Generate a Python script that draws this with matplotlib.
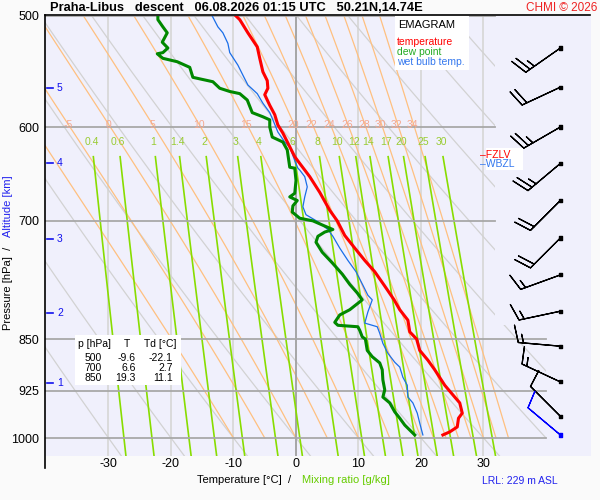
import numpy as np
import matplotlib
matplotlib.use("Agg")
import matplotlib.pyplot as plt
from matplotlib.patches import Polygon, Rectangle
from matplotlib.lines import Line2D
from matplotlib.ticker import NullLocator
import matplotlib.transforms as mtransforms

plt.rcParams['font.family'] = ['Liberation Sans', 'DejaVu Sans']

# sounding: temperature
t_p = [500, 503, 514, 526, 536, 548, 556, 563, 569, 579, 588, 598, 606, 616, 630, 637, 651, 668, 688, 700,
       717, 732, 747, 761, 778, 797, 810, 824, 840, 850, 866, 880, 894, 917, 935, 944, 960, 968, 982, 990, 995]
t_T = [-9.6, -9.0, -7.7, -6.2, -5.8, -5.3, -4.6, -4.5, -5.0, -4.2, -3.4, -2.9, -2.1, -1.3, -0.2, 0.6, 2.2, 3.8, 5.4, 6.6,
       7.8, 9.4, 11.0, 12.6, 14.1, 15.7, 16.6, 17.9, 18.2, 19.3, 19.8, 21.1, 22.2, 23.8, 25.4, 26.2, 26.6, 26.0, 25.8, 24.6, 23.5]

# dew point
d_p = [500, 503, 509, 514, 522, 527, 531, 532, 536, 539, 544, 553, 555, 557, 563, 566, 568, 574, 586, 590,
       593, 600, 610, 615, 623, 641, 642, 655, 669, 673, 677, 683, 690, 697, 700, 706, 710, 713, 718, 725,
       737, 750, 764, 777, 788, 797, 810, 817, 827, 831, 833, 838, 847, 850, 866, 875, 884, 894, 909, 924,
       935, 944, 958, 968, 979, 987, 995]
d_T = [-22.1, -22.1, -21.3, -20.6, -21.4, -20.5, -21.3, -22.2, -21.3, -19.0, -17.0, -16.5, -14.9, -13.3, -12.2, -10.6, -9.0, -7.8, -7.0, -5.3,
       -4.2, -4.2, -3.8, -2.1, -1.4, -1.0, -0.2, 0.0, -0.2, -1.0, 0.2, -0.5, -0.6, 0.6, 2.7, 4.6, 5.9, 4.6, 3.5, 3.2,
       4.2, 5.8, 7.4, 8.6, 9.8, 10.6, 8.6, 7.0, 6.2, 6.7, 9.9, 10.2, 10.6, 11.1, 11.4, 12.2, 13.4, 13.8, 13.9, 14.2,
       13.9, 15.0, 15.8, 16.6, 17.4, 18.2, 19.0]

# wet bulb
w_p = [500, 509, 514, 523, 531, 542, 551, 560, 568, 577, 586, 593, 605, 615, 620, 634, 642, 644, 651, 662,
       673, 684, 693, 701, 710, 718, 732, 747, 761, 778, 791, 797, 813, 828, 833, 842, 856, 870, 883, 890,
       905, 917, 935, 944, 960, 976, 995]
w_T = [-13.4, -12.5, -11.7, -10.9, -10.6, -9.3, -8.5, -7.7, -6.2, -5.3, -4.2, -3.7, -2.9, -1.8, -1.0, -0.2, 0.3, 0.6, 1.4, 1.8,
       1.4, 1.1, 1.6, 3.5, 5.1, 5.9, 7.0, 8.3, 9.6, 10.7, 11.5, 12.2, 11.5, 11.0, 13.0, 13.4, 13.9, 14.7, 15.8, 16.6,
       17.1, 17.8, 17.9, 18.7, 19.4, 19.8, 20.3]

# wind
wind_p = [527, 562, 600, 637, 677, 720, 765, 812, 860, 912, 965, 995]
wind_dir = [235, 245, 240, 230, 225, 225, 250, 258, 275, 295, 315, 310]
wind_kt = [25, 20, 25, 25, 20, 20, 15, 15, 15, 15, 10, 10]

# altitude marks
alt_km = [1, 2, 3, 4, 5]
alt_p = [914, 814, 721, 637, 563]

table_p = ['500', '700', '850']
table_T = ['-9.6', '6.6', '19.3']
table_Td = ['-22.1', '2.7', '11.1']

p_levels = [500, 600, 700, 850, 925, 1000]
isotherms = [-30, -20, -10, 10, 20, 30]
dry_theta = list(range(-30, 110, 10))
moist_tw = [-10, -5, 0, 5, 10, 15, 20, 22, 24, 26, 28, 30, 32, 34]
moist_lab = [-5, 0, 5, 10, 15, 20, 22, 24, 26, 28, 30, 32, 34]
mix_r = [0.4, 0.6, 1, 1.4, 2, 3, 4, 6, 8, 10, 12, 14, 17, 20, 25, 30]
mix_lab = ['0.4', '0.6', '1', '1.4', '2', '3', '4', '6', '8', '10', '12', '14', '17', '20', '25', '30']


def fx(px):
    return px / 600.0


def fy(py):
    return 1 - py / 500.0


def es(tc):
    return 6.112 * np.exp(17.67 * tc / (tc + 243.5))


def moist_line(tw, pp):
    T = tw + 273.15
    out = [T]
    for i in range(1, len(pp)):
        def f(T, p):
            e = es(T - 273.15)
            rs = 0.622 * e / (p - e)
            num = (287.04 * T + 2.501e6 * rs) / p
            den = 1005.7 + (2.501e6 ** 2 * rs * 0.622) / (287.04 * T ** 2)
            return num / den
        dp = pp[i] - pp[i - 1]
        k1 = f(T, pp[i - 1])
        k2 = f(T + k1 * dp, pp[i])
        T = T + 0.5 * (k1 + k2) * dp
        out.append(T)
    return np.array(out) - 273.15


fig = plt.figure(figsize=(6, 5), dpi=100, facecolor='#fafafa')
ax = fig.add_axes([fx(45), fy(456), fx(591) - fx(45), fy(16) - fy(456)])
ax.set_facecolor('#f0f0fc')
ax.set_yscale('log')
ax.set_ylim(1030, 500)
ax.set_xlim(-40.16, 47.2)
for s in ax.spines.values():
    s.set_visible(False)

clip = Polygon([(-41, 1040), (40, 1040), (40, 830), (31.84, 830), (31.84, 495), (-41, 495)],
               closed=True, transform=ax.transData, facecolor='none', edgecolor='none')
ax.add_patch(clip)

# isotherms
for t in isotherms:
    ax.axvline(t, color='#d8d8d8', lw=1.3, zorder=1)
ax.axvline(0, color='#a0a0a0', lw=1.3, zorder=2)

# dry adiabats
pp = np.linspace(1030, 495, 200)
for th in dry_theta:
    tt = (th + 273.15) * (pp / 1000.0) ** 0.2857 - 273.15
    ln, = ax.plot(tt, pp, color='#d2d2d2', lw=0.9, zorder=1)
    ln.set_clip_path(clip)

# moist adiabats
pm = np.linspace(1000, 495, 300)
for tw in moist_tw:
    tt = moist_line(tw, pm)
    ln, = ax.plot(tt, pm, color='#ffc080', lw=0.9, zorder=1)
    ln.set_clip_path(clip)
    if tw in moist_lab:
        t600 = np.interp(600, pm[::-1], tt[::-1])
        ax.text(t600 - 0.3, 603, str(tw), color='#f4a890', fontsize=7.5, ha='center', va='bottom', zorder=3)

# mixing ratio lines
pr = np.linspace(630, 1030, 100)
for r, lab in zip(mix_r, mix_lab):
    e = r * pr / (622.0 + r)
    a = np.log(e / 6.112)
    tt = 243.5 * a / (17.67 - a)
    ln, = ax.plot(tt, pr, color='#88dd00', lw=1.2, zorder=2)
    ln.set_clip_path(clip)
    ax.text(tt[0] - 0.3, 615, lab, color='#99cc33', fontsize=7.5, ha='center', va='center', zorder=3)

# pressure lines
for p in p_levels:
    tmax = 31.84 if p < 830 else 40
    ax.plot([-40.16, tmax], [p, p], color='#a8a8a8', lw=1.3, zorder=2)

# profiles
ax.plot(w_T, w_p, color='#1a6ee8', lw=0.9, zorder=5)
ax.plot(d_T, d_p, color='#008800', lw=2.2, zorder=6)
ax.plot(t_T, t_p, color='#ff0000', lw=2.2, zorder=7)

# wind barbs
wd = np.radians(wind_dir)
ws = np.array(wind_kt)
u = -ws * np.sin(wd)
v = -ws * np.cos(wd)
bx = np.full(len(wind_p), 42.3)
cols = ['black'] * (len(wind_p) - 1) + ['#0000ff']
ax.barbs(bx, wind_p, u, v, length=7.8, color=cols, linewidth=0.9, zorder=8)
ax.scatter(bx, wind_p, marker='s', s=5, c=cols, zorder=9)

# altitude marks
tr = mtransforms.blended_transform_factory(ax.transAxes, ax.transData)
for km, p in zip(alt_km, alt_p):
    ax.plot([0.004, 0.015], [p, p], color='#1010ee', lw=1.2, transform=tr, zorder=8)
    ax.text(0.022, p, str(km), color='#1010ee', fontsize=7.5, ha='left', va='center', transform=tr, zorder=8)

ax.set_yticks(p_levels)
ax.set_yticklabels([str(p) for p in p_levels])
ax.yaxis.set_minor_locator(NullLocator())
ax.set_xticks([-30, -20, -10, 0, 10, 20, 30])
ax.set_xticklabels(['-30', '-20', '-10', '0', '10', '20', '30'])
ax.tick_params(length=0, labelsize=9, colors='black')
ax.tick_params(axis='y', pad=4)
ax.tick_params(axis='x', pad=1.5)

# frame lines
fig.add_artist(Line2D([fx(45), fx(45)], [fy(15), fy(468)], color='black', lw=1.2))
fig.add_artist(Line2D([fx(45), fx(590)], [fy(15), fy(15)], color='black', lw=1.2))

# legend box
fig.add_artist(Rectangle((fx(395), fy(70)), fx(469) - fx(395), fy(16) - fy(70), facecolor='white',
                         edgecolor='none', transform=fig.transFigure, zorder=10))
fig.text(fx(398), fy(25), 'EMAGRAM', fontsize=8, color='black', va='center', zorder=11)
fig.text(fx(397), fy(42), 'temperature', fontsize=7.5, color='#ff0000', va='center', zorder=11)
fig.text(fx(397), fy(52), 'dew point', fontsize=7.5, color='#22aa22', va='center', zorder=11)
fig.text(fx(397), fy(62), 'wet bulb temp.', fontsize=7.5, color='#3377ee', va='center', zorder=11)

fig.add_artist(Rectangle((fx(486), fy(170)), fx(523) - fx(486), fy(148) - fy(170), facecolor='white',
                         edgecolor='none', transform=fig.transFigure, zorder=10))
fig.text(fx(480), fy(155), '\u2013FZLV', fontsize=7.5, color='#ff0000', va='center', zorder=11)
fig.text(fx(480), fy(164), '\u2013WBZL', fontsize=7.5, color='#3377ee', va='center', zorder=11)

# table
fig.add_artist(Rectangle((fx(75), fy(385)), fx(181) - fx(75), fy(335) - fy(385), facecolor='white',
                         edgecolor='none', transform=fig.transFigure, zorder=10))
fig.text(fx(78), fy(344), 'p [hPa]', fontsize=7.5, va='center', zorder=11)
fig.text(fx(127), fy(344), 'T', fontsize=7.5, ha='center', va='center', zorder=11)
fig.text(fx(144), fy(344), 'Td [°C]', fontsize=7.5, va='center', zorder=11)
for i in range(3):
    yy = fy(358 + 10 * i)
    fig.text(fx(102), yy, table_p[i], fontsize=7.5, ha='right', va='center', zorder=11)
    fig.text(fx(136), yy, table_T[i], fontsize=7.5, ha='right', va='center', zorder=11)
    fig.text(fx(173), yy, table_Td[i], fontsize=7.5, ha='right', va='center', zorder=11)

# titles and labels
fig.text(fx(50), fy(8), 'Praha-Libus   descent   06.08.2026 01:15 UTC   50.21N,14.74E',
         fontsize=9.3, fontweight='bold', va='center')
fig.text(fx(597), fy(8), 'CHMI \u00a9 2026', fontsize=8.5, color='#ee2222', ha='right', va='center')
fig.text(fx(197), fy(480), 'Temperature [°C]  /', fontsize=8, va='center')
fig.text(fx(302), fy(480), 'Mixing ratio [g/kg]', fontsize=8, color='#66cc00', va='center')
fig.text(fx(482), fy(481), 'LRL: 229 m ASL', fontsize=7.5, color='#2222ee', va='center')
fig.text(fx(8), fy(330), 'Pressure [hPa]  /', fontsize=8, rotation=90, ha='center', va='bottom')
fig.text(fx(8), fy(237), 'Altitude [km]', fontsize=8, rotation=90, ha='center', va='bottom', color='#2222ee')

fig.savefig('out.png', dpi=100, facecolor=fig.get_facecolor())
